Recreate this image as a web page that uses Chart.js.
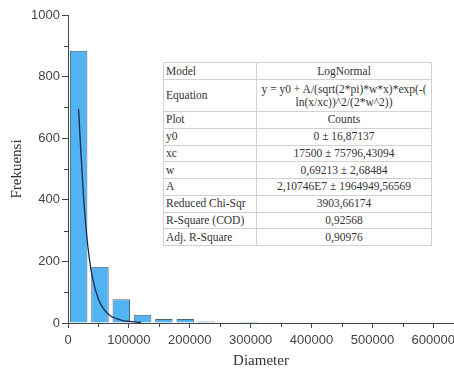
<!DOCTYPE html>
<html>
<head>
<meta charset="utf-8">
<script src="https://cdn.jsdelivr.net/npm/chart.js@4"></script>
<style>
  body { margin: 0; background: #fff; }
  #wrap { position: relative; width: 454px; height: 372px; }
  #fitTable {
    position: absolute; left: 163px; top: 62px; width: 269px;
    border-collapse: collapse; background: #fff;
    font-family: "Liberation Serif", "Times New Roman", serif;
    font-size: 11.5px; color: #333; border: 1px solid #888;
  }
  #fitTable td { border: 1px solid #d2d2d2; padding: 0 2px; height: 15.75px; line-height: 13px; }
  #fitTable td:first-child { width: 88px; text-align: left; }
  #fitTable td:last-child { text-align: center; }
  #fitTable tr.eq td { height: 31px; }
  #fitTable tr.first td { height: 16px; }
</style>
</head>
<body>
<div id="wrap">
  <canvas id="histChart" width="454" height="372"></canvas>
  <table id="fitTable"></table>
</div>
<script>
// histogram bins (centre of each 35000 wide bin) and counts
var binCentres = [17500, 52500, 87500, 122500, 157500, 192500, 227500, 262500, 297500];
var counts = [884, 183, 77, 27, 13, 13, 5, 2, 4];

// LogNormal fit curve
var fitX = [17500, 20000, 25000, 30000, 35000, 40000, 50000, 60000, 70000, 80000, 90000, 100000, 120000];
var fitY = [694, 596, 426, 299, 210, 149, 77, 42, 23, 14, 8, 5, 2];

var xTicks = [0, 100000, 200000, 300000, 400000, 500000, 600000];
var yTicks = [0, 200, 400, 600, 800, 1000];

var tableRows = [
    ["Model", "LogNormal"],
    ["Equation", "y = y0 + A/(sqrt(2*pi)*w*x)*exp(-(<br>ln(x/xc))^2/(2*w^2))"],
    ["Plot", "Counts"],
    ["y0", "0 \u00b1 16,87137"],
    ["xc", "17500 \u00b1 75796,43094"],
    ["w", "0,69213 \u00b1 2,68484"],
    ["A", "2,10746E7 \u00b1 1964949,56569"],
    ["Reduced Chi-Sqr", "3903,66174"],
    ["R-Square (COD)", "0,92568"],
    ["Adj. R-Square", "0,90976"]
];

function buildTable() {
    var html = "";
    for (var i = 0; i < tableRows.length; i++) {
        var cls = i == 0 ? "first" : (i == 1 ? "eq" : "");
        html += '<tr class="' + cls + '"><td>' + tableRows[i][0] + '</td><td>' + tableRows[i][1] + '</td></tr>';
    }
    document.getElementById("fitTable").innerHTML = html;
}

// small minor ticks between the labelled ones
var minorTicks = {
    id: 'minorTicks',
    afterDraw: function(chart) {
        var ctx = chart.ctx;
        var xs = chart.scales.x, ys = chart.scales.y;
        ctx.save();
        ctx.strokeStyle = '#444';
        ctx.lineWidth = 1;
        ctx.beginPath();
        for (var v = 50000; v <= 650000; v += 100000) {
            var px = Math.round(xs.getPixelForValue(v)) + 0.5;
            if (px > chart.chartArea.right) break;
            ctx.moveTo(px, ys.bottom);
            ctx.lineTo(px, ys.bottom + 4);
        }
        for (var w = 100; w < 1000; w += 200) {
            var py = Math.round(ys.getPixelForValue(w)) + 0.5;
            ctx.moveTo(xs.left, py);
            ctx.lineTo(xs.left - 4, py);
        }
        ctx.stroke();
        ctx.restore();
    }
};

function draw() {
    var barData = binCentres.map(function(c, i) { return {x: c, y: counts[i]}; });
    var fitData = fitX.map(function(x, i) { return {x: x, y: fitY[i]}; });
    var tickFont = {family: "'Liberation Sans', Arial, sans-serif", size: 13};
    var titleFont = {family: "'Liberation Serif', 'Times New Roman', serif", size: 15};

    new Chart(document.getElementById("histChart"), {
        type: 'bar',
        data: {
            datasets: [{
                type: 'line',
                data: fitData,
                borderColor: '#1b2a4e',
                borderWidth: 1.3,
                pointRadius: 0,
                cubicInterpolationMode: 'monotone',
                fill: false,
                order: 0
            }, {
                type: 'bar',
                data: barData,
                backgroundColor: '#52b3f2',
                borderColor: '#4a6478',
                borderWidth: 1,
                barPercentage: 0.82,
                categoryPercentage: 1,
                order: 1
            }]
        },
        options: {
            responsive: false,
            animation: false,
            devicePixelRatio: 1,
            layout: {padding: {top: 15, right: 0, left: 0, bottom: 0}},
            plugins: {legend: {display: false}, tooltip: {enabled: false}},
            scales: {
                x: {
                    type: 'linear',
                    min: 0,
                    max: 634000,
                    offset: false,
                    afterBuildTicks: function(scale) {
                        scale.ticks = xTicks.map(function(v) { return {value: v}; });
                    },
                    afterFit: function(scale) {
                        scale.height = 49;
                        scale.paddingLeft = 0;
                        scale.paddingRight = 0;
                    },
                    grid: {drawOnChartArea: false, drawTicks: true, tickLength: 5, color: '#444', offset: false},
                    border: {color: '#444', width: 1},
                    ticks: {font: tickFont, color: '#444', padding: 5, autoSkip: false, maxRotation: 0,
                        callback: function(v) { return String(v); }},
                    title: {display: true, text: 'Diameter', font: titleFont, color: '#333', padding: {top: 0, bottom: 2}}
                },
                y: {
                    min: 0,
                    max: 1000,
                    afterBuildTicks: function(scale) {
                        scale.ticks = yTicks.map(function(v) { return {value: v}; });
                    },
                    afterFit: function(scale) {
                        scale.width = 68;
                        scale.paddingTop = 0;
                        scale.paddingBottom = 0;
                    },
                    grid: {drawOnChartArea: false, drawTicks: true, tickLength: 6, color: '#444'},
                    border: {color: '#444', width: 1},
                    ticks: {font: tickFont, color: '#444', padding: 2,
                        callback: function(v) { return String(v); }},
                    title: {display: true, text: 'Frekuensi', font: titleFont, color: '#333', padding: {top: 8, bottom: 0}}
                }
            }
        },
        plugins: [minorTicks]
    });
}

buildTable();
draw();
</script>
</body>
</html>
